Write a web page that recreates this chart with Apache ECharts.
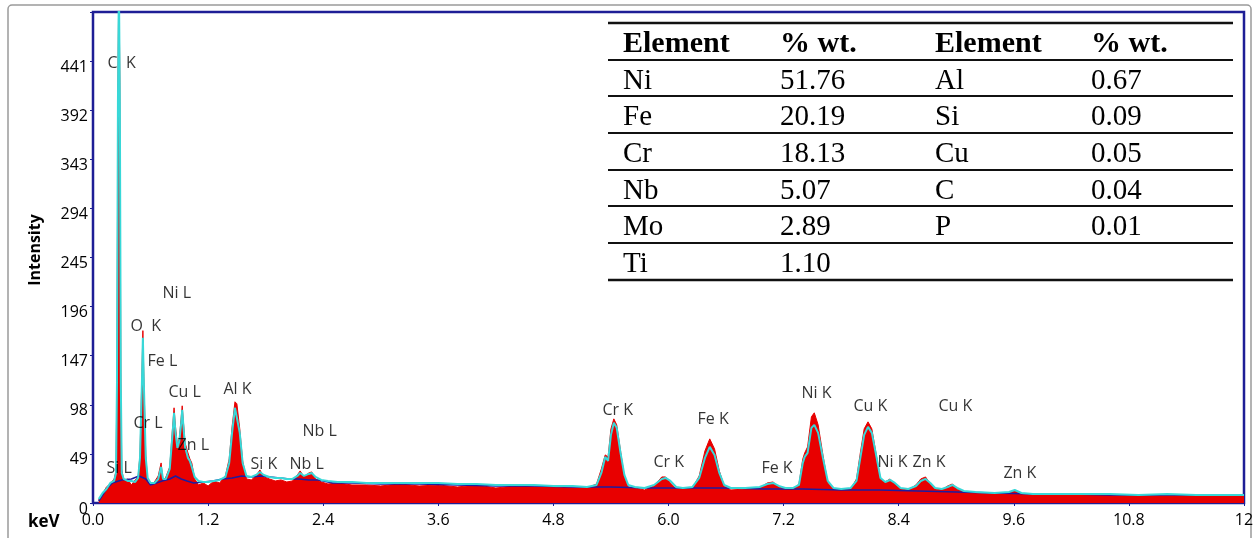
<!DOCTYPE html>
<html>
<head>
<meta charset="utf-8">
<script src="https://cdn.jsdelivr.net/npm/echarts@6/dist/echarts.min.js"></script>
<style>
html,body{margin:0;padding:0;background:#fff;}
#c{width:1258px;height:538px;}
</style>
</head>
<body>
<div id="c"></div>
<script>
// ---- spectrum (keV vs counts) ----
const energies = [0.06,0.10,0.14,0.18,0.22,0.24,0.25,0.26,0.27,0.28,0.29,0.30,0.32,0.36,0.40,0.44,0.47,0.49,0.51,0.52,0.53,0.55,0.57,0.60,0.64,0.68,0.71,0.73,0.76,0.80,0.83,0.845,0.86,0.88,0.90,0.92,0.93,0.94,0.96,0.99,1.01,1.03,1.06,1.10,1.15,1.20,1.26,1.32,1.38,1.42,1.45,1.48,1.50,1.53,1.56,1.60,1.65,1.70,1.74,1.78,1.84,1.90,1.96,2.02,2.08,2.13,2.16,2.20,2.25,2.28,2.32,2.38,2.45,2.55,2.70,2.85,3.00,3.20,3.40,3.60,3.80,4.00,4.20,4.40,4.60,4.80,5.00,5.15,5.25,5.30,5.34,5.37,5.40,5.43,5.46,5.50,5.54,5.58,5.65,5.75,5.85,5.93,5.97,6.02,6.08,6.15,6.25,6.32,6.38,6.43,6.48,6.53,6.58,6.65,6.80,6.95,7.03,7.09,7.15,7.22,7.30,7.36,7.40,7.42,7.45,7.49,7.52,7.56,7.61,7.66,7.72,7.80,7.90,7.96,8.00,8.04,8.08,8.12,8.17,8.21,8.26,8.31,8.36,8.42,8.50,8.58,8.63,8.68,8.73,8.78,8.85,8.91,8.96,9.01,9.08,9.20,9.40,9.55,9.61,9.68,9.80,10.0,10.3,10.6,10.9,11.2,11.5,11.8,12.0];
const fitCounts = [4,10,14,20,22,30,120,400,520,400,120,30,24,22,22,21,25,45,120,165,120,45,25,20,20,24,36,24,24,34,70,90,70,55,62,80,93,80,56,45,42,36,26,22,21,21,22,23,26,40,70,95,95,70,40,27,26,28,31,28,26,25,25,24,24,27,30,27,29,30,26,23,22,21,21,20,20,20,20,20,19,19,18,18,18,17,17,16,18,30,46,42,68,80,75,50,28,18,16,15,18,24,25,22,16,15,16,25,45,56,48,30,18,15,15,16,19,20,17,15,15,18,40,46,50,75,78,70,45,22,15,14,15,22,45,68,76,70,45,25,21,23,20,15,14,17,22,24,20,15,14,16,18,15,12,11,10,11,13,10,9,9,9,9,8,9,8,8,8];
const rawCounts = [3,9,16,19,24,32,130,420,530,420,130,34,22,24,18,23,26,48,128,172,126,48,22,17,21,27,40,22,26,36,76,95,76,58,64,86,97,84,60,50,44,40,24,18,20,17,22,20,27,44,76,101,99,74,42,24,23,27,33,26,24,22,23,21,22,28,32,26,30,31,24,21,19,20,18,18,17,19,17,18,16,18,15,17,16,16,15,15,19,34,48,46,74,84,78,52,26,16,15,13,17,26,26,20,14,14,15,27,52,64,54,32,17,13,14,15,20,21,16,14,14,19,44,50,56,86,90,78,48,20,14,13,14,24,50,74,81,74,46,24,21,24,19,14,13,18,24,26,19,14,13,17,19,14,11,10,9,10,12,9,8,8,8,8,7,8,7,7,7];
// ---- background line ----
const bgEnergies = [0.06,0.10,0.14,0.20,0.30,0.40,0.48,0.55,0.60,0.66,0.72,0.80,0.86,0.92,0.98,1.05,1.15,1.25,1.35,1.45,1.55,1.65,1.75,1.85,1.95,2.05,2.15,2.25,2.35,2.50,2.70,3.00,3.40,3.80,4.20,4.60,5.00,5.40,5.80,6.20,6.60,7.00,7.40,7.80,8.20,8.60,9.00,9.40,9.80,10.2,10.6,11.0,11.3,11.6,12.0];
const bgCounts = [2,8,14,20,23,24,27,24,18,20,22,24,27,24,22,20,21,22,24,25,27,26,27,26,25,24,24,23,23,20,20,19,19,18,17,17,16,16,15,15,15,14,14,13,13,12,11,10,9,9,8,8,8,8,8];
// ---- peak labels: [text, keV, counts] ----
const peakLabels = [
  ['C  K',0.146,439],['Ni L',0.72,209],['O  K',0.386,176],['Fe L',0.563,141],
  ['Cu L',0.782,110],['Al K',1.355,113],['Cr L',0.417,79],['Zn L',0.876,57],
  ['Nb L',2.179,71],['Si L',0.136,34],['Si K',1.637,38],['Nb L',2.043,38],
  ['Cr K',5.307,92],['Fe K',6.297,83],['Ni K',7.381,109],['Cu K',7.923,96],
  ['Cu K',8.81,96],['Cr K',5.838,40],['Fe K',6.964,34],['Ni K',8.174,40],
  ['Zn K',8.539,40],['Zn K',9.487,30]
];
// ---- axis ticks ----
const xTickStep = 1.2, xMin = 0, xMax = 12;
const yTickStep = 49, yMin = 0, yMax = 490, yLastLabel = 441;
// ---- composition table ----
const tableHeader = ['Element','% wt.','Element','% wt.'];
const elementsLeft = ['Ni','Fe','Cr','Nb','Mo','Ti'];
const wtLeft = ['51.76','20.19','18.13','5.07','2.89','1.10'];
const elementsRight = ['Al','Si','Cu','C','P'];
const wtRight = ['0.67','0.09','0.05','0.04','0.01'];

const pair = (xs, ys) => xs.map((x, i) => [x, ys[i]]);
const chart = echarts.init(document.getElementById('c'), null, {renderer:'canvas'});

const NAVY = '#1e1e96';
const sans = '"Open Sans", "Noto Sans", sans-serif';
const serif = '"Liberation Serif", "DejaVu Serif", serif';

// table graphics
const tg = [];
const lineYs = [23,60,96,133,170,206,243,280];
const colX = [623,780,935,1091];
lineYs.forEach((y, i) => {
  tg.push({type:'line', shape:{x1:608,y1:y,x2:1233,y2:y}, style:{stroke:'#111', lineWidth: (i===0||i===lineYs.length-1)?2.5:2}, z:100});
});
const rowMid = i => (lineYs[i] + lineYs[i+1]) / 2 + 3;
tableHeader.forEach((t, j) => {
  tg.push({type:'text', x:colX[j], y:rowMid(0), style:{text:t, font:'bold 30px ' + serif, fill:'#000', textVerticalAlign:'middle', textAlign:'left'}, z:100});
});
elementsLeft.forEach((t, i) => {
  tg.push({type:'text', x:colX[0], y:rowMid(i+1), style:{text:t, font:'29px ' + serif, fill:'#000', textVerticalAlign:'middle'}, z:100});
  tg.push({type:'text', x:colX[1], y:rowMid(i+1), style:{text:wtLeft[i], font:'29px ' + serif, fill:'#000', textVerticalAlign:'middle'}, z:100});
});
elementsRight.forEach((t, i) => {
  tg.push({type:'text', x:colX[2], y:rowMid(i+1), style:{text:t, font:'29px ' + serif, fill:'#000', textVerticalAlign:'middle'}, z:100});
  tg.push({type:'text', x:colX[3], y:rowMid(i+1), style:{text:wtRight[i], font:'29px ' + serif, fill:'#000', textVerticalAlign:'middle'}, z:100});
});

const option = {
  animation: false,
  backgroundColor: '#fff',
  grid: {left:93, right:14, top:12, bottom:35, show:true, borderColor:NAVY, borderWidth:2.5, backgroundColor:'#fff', containLabel:false, outerBoundsMode:'none'},
  xAxis: {
    type:'value', min:xMin, max:xMax, interval:xTickStep,
    axisLine:{show:false},
    axisTick:{show:true, length:3, lineStyle:{color:NAVY}},
    splitLine:{show:false},
    axisLabel:{fontFamily:sans, fontSize:16, color:'#000', margin:9,
      formatter: v => Math.abs(v - 12) < 1e-6 ? '12' : v.toFixed(1)}
  },
  yAxis: {
    type:'value', min:yMin, max:yMax, interval:yTickStep,
    axisLine:{show:false},
    axisTick:{show:true, length:3, lineStyle:{color:NAVY}},
    splitLine:{show:false},
    axisLabel:{fontFamily:sans, fontSize:16, color:'#000', margin:5, verticalAlign:'top', lineHeight:12,
      formatter: v => v <= yLastLabel ? String(Math.round(v)) : ''}
  },
  series: [
    {type:'line', data:pair(energies, rawCounts), symbol:'none', z:2,
     lineStyle:{color:'#e80000', width:1}, areaStyle:{color:'#e80000', opacity:1}},
    {type:'line', data:pair(bgEnergies, bgCounts), symbol:'none', z:3,
     lineStyle:{color:'#1c1ca0', width:1.6}},
    {type:'line', data:pair(energies, fitCounts), symbol:'none', z:4,
     lineStyle:{color:'#38d8d8', width:2}},
    {type:'scatter', data:peakLabels.map(d => ({name:d[0], value:[d[1], d[2]]})), symbolSize:1, z:5,
     itemStyle:{color:'rgba(0,0,0,0)'}, silent:true,
     label:{show:true, position:'right', distance:0, formatter:'{b}', fontFamily:sans, fontSize:16, color:'#000'}}
  ],
  graphic: [
    {type:'rect', shape:{x:8, y:5, width:1243, height:545, r:4}, style:{fill:'none', stroke:'#9a9a9a', lineWidth:1.5}, z:-1, silent:true},
    {type:'text', x:28, y:522, style:{text:'keV', font:'bold 17px ' + sans, fill:'#000', textVerticalAlign:'middle'}},
    {type:'text', x:35, y:250, rotation:Math.PI/2, style:{text:'Intensity', font:'bold 16px ' + sans, fill:'#000', textAlign:'center', textVerticalAlign:'middle'}}
  ].concat(tg)
};
chart.setOption(option);
</script>
</body>
</html>
